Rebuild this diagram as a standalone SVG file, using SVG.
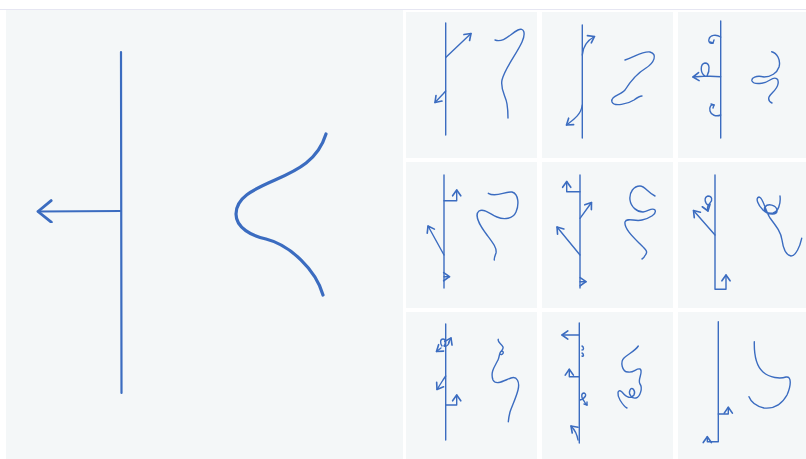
<svg xmlns="http://www.w3.org/2000/svg" width="806" height="459" viewBox="0 0 806 459">
<defs>
<style>
.pn{fill:#f4f7f8}
.ln{fill:none;stroke:#3b6cc0;stroke-width:1.4;stroke-linecap:round;stroke-linejoin:round}
.big{fill:none;stroke:#3b6cc0;stroke-width:2.2;stroke-linecap:round;stroke-linejoin:round}
.cv{fill:none;stroke:#3b6cc0;stroke-width:3.2;stroke-linecap:round;stroke-linejoin:round}
</style>
<marker id="ah" markerUnits="userSpaceOnUse" markerWidth="14" markerHeight="14" viewBox="-8 -6 10 12" refX="0" refY="0" orient="auto">
<path d="M-5,-3.5 L0,0 L-5,3.5" fill="none" stroke="#3b6cc0" stroke-width="1.4" stroke-linecap="round" stroke-linejoin="round"/>
</marker>
<marker id="ahb" markerUnits="userSpaceOnUse" markerWidth="24" markerHeight="24" viewBox="-14 -10 16 20" refX="0" refY="0" orient="auto">
<path d="M-11,-9 L0,0 L-11,9" fill="none" stroke="#3b6cc0" stroke-width="2.4" stroke-linecap="round" stroke-linejoin="round"/>
</marker>
</defs>
<rect width="806" height="459" fill="#ffffff"/>
<line x1="0" y1="9.5" x2="806" y2="9.5" stroke="#e6e6f2" stroke-width="1"/>
<rect class="pn" x="6" y="10" width="397" height="449"/>
<rect class="pn" x="406" y="12" width="131" height="146"/>
<rect class="pn" x="542" y="12" width="131" height="146"/>
<rect class="pn" x="678" y="12" width="128" height="146"/>
<rect class="pn" x="406" y="162" width="131" height="146"/>
<rect class="pn" x="542" y="162" width="131" height="146"/>
<rect class="pn" x="678" y="162" width="128" height="146"/>
<rect class="pn" x="406" y="312" width="131" height="147"/>
<rect class="pn" x="542" y="312" width="131" height="147"/>
<rect class="pn" x="678" y="312" width="128" height="147"/>

<g id="main">
<line class="big" x1="121" y1="52" x2="121.5" y2="393"/>
<line class="big" x1="121" y1="211" x2="38" y2="211.5" marker-end="url(#ahb)"/>
<path class="cv" d="M326,134 C318,160 298,170 275,180 C252,190 236,198 236,214 C236,228 252,236 266,239 C290,245 316,270 323,295"/>
</g>

<g id="p1">
<line class="ln" x1="445.7" y1="23" x2="445.7" y2="135"/>
<line class="ln" x1="445.7" y1="57.5" x2="471" y2="33.5" marker-end="url(#ah)"/>
<path class="ln" d="M445.7,91 L443,94 L435,102.5" marker-end="url(#ah)"/>
<path class="ln" d="M495,40 C504,43 510,34 518,30 C524,27 526,33 522,42 C516,55 505,68 502,80 C500,90 506,96 507,104 C508,110 508,114 508,118"/>
</g>

<g id="p2">
<line class="ln" x1="582.3" y1="25" x2="582.3" y2="138"/>
<path class="ln" d="M582.3,55 C583,46 588,40 594.5,36.5" marker-end="url(#ah)"/>
<path class="ln" d="M582.3,105 C581,115 573,120 566.5,125" marker-end="url(#ah)"/>
<path class="ln" d="M625,60 C635,57 642,51 650,52 C658,54 654,63 646,68 C636,74 630,82 625,90 C621,95 610,96 612,102 C614,107 628,104 634,100 C638,97 640,96 642,96"/>
</g>

<g id="p3">
<line class="ln" x1="720.7" y1="21" x2="720.7" y2="138"/>
<path class="ln" d="M720.7,37 C716,34 710,35 709,39 C708,42 710,44 713,43"/>
<path class="ln" d="M713,43 L714,40 M713,43 L710,42"/>
<path class="ln" d="M720.7,76.7 L705,76 C700,73 700,64 705,63 C710,63 710,70 707,76 L693,77" marker-end="url(#ah)"/>
<path class="ln" d="M720.7,115 C716,117 711,115 710,111 C709,107 711,104 714,105"/>
<path class="ln" d="M714,105 L711,104 M714,105 L713,108"/>
<path class="ln" d="M771.7,51.7 C777,53 781,60 779,67 C777,73 771,77 764,77 C756,75 751,78 752,81 C754,85 764,84 770,80 C776,76 779,79 778,84 C777,90 771,93 769,97 C768,100 770,102 772,103"/>
</g>

<g id="p4">
<line class="ln" x1="444" y1="175" x2="444" y2="288"/>
<path class="ln" d="M444,200.7 L456.7,200.7 L456.7,190" marker-end="url(#ah)"/>
<line class="ln" x1="444" y1="255" x2="428" y2="226" marker-end="url(#ah)"/>
<path class="ln" d="M444,276.7 L449.5,276.7" marker-end="url(#ah)"/>
<path class="ln" d="M488.3,193.3 C496,198 505,191 512,192 C519,194 519,205 516,212 C513,219 504,220 497,217 C490,214 484,208 479,211 C474,215 480,226 487,235 C493,243 497,248 496,253 C495,256 494,258 494.3,260"/>
</g>

<g id="p5">
<line class="ln" x1="580" y1="175" x2="580" y2="288"/>
<path class="ln" d="M580,191.7 L566.7,191.7 L566.7,181.5" marker-end="url(#ah)"/>
<line class="ln" x1="580" y1="218.3" x2="591.5" y2="202.5" marker-end="url(#ah)"/>
<line class="ln" x1="580" y1="255" x2="557" y2="227" marker-end="url(#ah)"/>
<path class="ln" d="M580,281.7 L586,281.7" marker-end="url(#ah)"/>
<path class="ln" d="M655,196 C648,193 645,186 640,186 C634,186 629,192 630,200 C631,207 637,212 643,212 C649,211 652,207 655,210 C657,214 650,218 642,220 C635,222 627,217 625,222 C624,228 632,236 639,243 C645,249 648,251 646,254 C645,256 644,258 642,259"/>
</g>

<g id="p6">
<path class="ln" d="M715,175 L715,289.3 L726,289.3 L726,275" marker-end="url(#ah)"/>
<line class="ln" x1="715" y1="235" x2="693.5" y2="210.5" marker-end="url(#ah)"/>
<path class="ln" d="M709,206 C704,203 704,197 708,196 C712,196 713,200 710,203 C707,206 707,208 708,211" marker-end="url(#ah)"/>
<path class="ln" d="M780,196 C781,204 778,212 773,213 C767,214 763,210 765,207 C768,203 776,205 777,210 C778,216 768,215 763,210 C758,205 755,198 759,197 C763,197 765,210 770,218 C776,226 781,232 782,240 C783,247 785,255 791,256 C796,256 800,246 801.7,238.3"/>
</g>

<g id="p7">
<line class="ln" x1="445.7" y1="324" x2="445.7" y2="440"/>
<path class="ln" d="M442,346 C440,343 440,339 443,339 C446,339 446,343 444,346 C447,347 449,344 449,342"/>
<line class="ln" x1="441" y1="348" x2="436.5" y2="351.5" marker-end="url(#ah)"/>
<line class="ln" x1="448.5" y1="343" x2="451" y2="338" marker-end="url(#ah)"/>
<path class="ln" d="M445.7,376 L443,380 L437,389.5" marker-end="url(#ah)"/>
<path class="ln" d="M445.7,405 L456.7,405 L456.7,395" marker-end="url(#ah)"/>
<path class="ln" d="M498.3,339.3 C497,342 502,344 503,347 C504,350 499,352 500,354 C502,356 505,352 502,351 C499,351 500,356 498,360 C495,366 490,372 493,380 C496,386 505,380 511,378 C517,376 520,382 518,390 C516,398 512,406 510,412 C509,416 508.5,419 508.3,421.7"/>
</g>

<g id="p8">
<line class="ln" x1="579.3" y1="323" x2="579.3" y2="443"/>
<line class="ln" x1="579.3" y1="335" x2="562" y2="335" marker-end="url(#ah)"/>
<path class="ln" d="M582,346 C584,347 584,350 582,350 M582,353 C584,354 584,357 582,356"/>
<path class="ln" d="M579.3,376.7 L569.3,376.7 L569.3,369.3" marker-end="url(#ah)"/>
<path class="ln" d="M580,400 C586,398 587,394 584,393 C581,393 581,398 584,401 C585,403 586,404 587,405"/>
<path class="ln" d="M587,405 L584,404 M587,405 L587,402"/>
<path class="ln" d="M578,440 C577,434 575,430 571,426" marker-end="url(#ah)"/>
<path class="ln" d="M638.3,346 C635,351 628,354 624,358 C620,362 622,372 628,372 C634,373 636,368 640,369 C644,371 637,380 640,384 C643,388 640,397 636,398 C632,399 628,394 630,390 C632,386 636,391 634,395 C631,399 627,398 622,392 C617,388 617,395 620,400 C623,405 625,407 627,408"/>
</g>

<g id="p9">
<path class="ln" d="M718.3,321.7 L718.3,441.7 L707.3,441.7 L707.3,436.7" marker-end="url(#ah)"/>
<path class="ln" d="M718.3,414 L728.3,414 L728.3,407.3" marker-end="url(#ah)"/>
<path class="ln" d="M754.3,341.7 C754,356 756,366 763,372 C770,378 780,379 786,377 C792,376 791,386 787,395 C782,404 774,409 764,408 C756,406 751,402 749,396.7"/>
</g>
</svg>
